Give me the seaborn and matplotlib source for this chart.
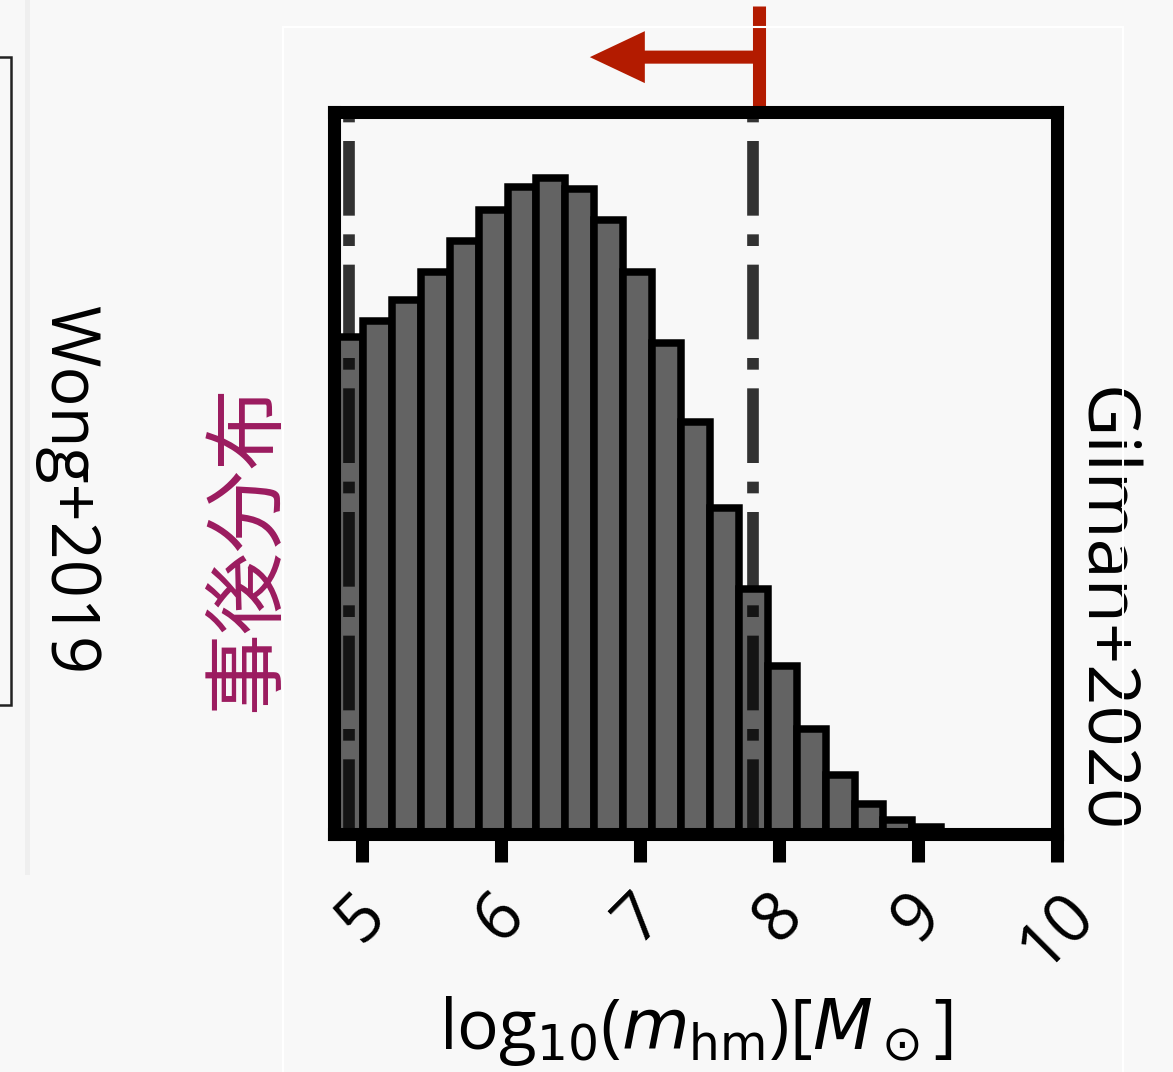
import numpy as np
import pandas as pd
import seaborn as sns
import matplotlib.pyplot as plt
from matplotlib.patches import Rectangle, FancyArrowPatch, ArrowStyle

# posterior of log10(m_hm): 25 bins over [4.8, 10]
bin_centers = [4.904, 5.112, 5.320, 5.528, 5.736, 5.944, 6.152, 6.360, 6.568,
               6.776, 6.984, 7.192, 7.400, 7.608, 7.816, 8.024, 8.232, 8.440,
               8.648, 8.856, 9.064, 9.272, 9.480, 9.688, 9.896]
density = [0.688, 0.711, 0.740, 0.779, 0.822, 0.864, 0.896, 0.909, 0.893,
           0.850, 0.778, 0.680, 0.571, 0.452, 0.339, 0.233, 0.146, 0.082,
           0.042, 0.019, 0.010, 0.0, 0.0, 0.0, 0.0]
bin_range = (4.8, 10.0)
n_bins = 25
xticks = [5, 6, 7, 8, 9, 10]
interval = [4.906, 7.817]      # dash-dot lines
gilman_limit = 7.856           # red upper limit
arrow_tip = 6.64

df = pd.DataFrame({'log_mhm': bin_centers, 'density': density})

sns.set_theme(style='ticks')
plt.rcParams['font.family'] = ['Open Sans', 'Noto Sans CJK JP', 'DejaVu Sans']
plt.rcParams['mathtext.fontset'] = 'dejavusans'
for k in ['text.color', 'axes.labelcolor', 'xtick.color', 'ytick.color']:
    plt.rcParams[k] = 'black'

bg = '#f8f8f8'
red = '#b31b00'
fig = plt.figure(figsize=(11.73, 10.72), dpi=100, facecolor=bg)

# panel decorations (cropped neighbouring panels)
fig.patches.append(Rectangle((25 / 1173, 1 - 875 / 1072), 5 / 1173, 875 / 1072,
                             transform=fig.transFigure, color='#efefef', lw=0))
fig.patches.append(Rectangle((-10 / 1173, 1 - 705 / 1072), 21 / 1173, 648 / 1072,
                             transform=fig.transFigure, fill=False, ec='#222222', lw=1.8))
fig.patches.append(Rectangle((283 / 1173, -0.05), 840 / 1173, 1.05 - 27 / 1072,
                             transform=fig.transFigure, fill=False, ec='white', lw=1.5))

ax = fig.add_axes([334 / 1173, 1 - 834 / 1072, 723 / 1173, 722 / 1072])
ax.set_facecolor(bg)

sns.histplot(data=df, x='log_mhm', weights='density', bins=n_bins, binrange=bin_range,
             color='#636363', edgecolor='black', linewidth=5.4, alpha=1, ax=ax)

for v in interval:
    ax.axvline(v, color='black', alpha=0.8, ls='-.', lw=8.4, zorder=5)

trans = ax.get_xaxis_transform()
ax.plot([gilman_limit, gilman_limit], [1.007, 1.147], color=red, lw=9.4,
        solid_capstyle='butt', transform=trans, clip_on=False)
arrow = FancyArrowPatch(posA=(gilman_limit, 1.076), posB=(arrow_tip, 1.076),
                        transform=trans,
                        arrowstyle=ArrowStyle.Simple(head_length=39.6, head_width=37.4,
                                                     tail_width=9.4),
                        mutation_scale=1, color=red, lw=0, shrinkA=0, shrinkB=0,
                        clip_on=False)
ax.add_patch(arrow)

ax.set_xlim(bin_range)
ax.set_ylim(0, 1)
ax.set_xticks(xticks)
ax.set_xticklabels([str(t) for t in xticks], rotation=45, fontsize=48)
ax.set_yticks([])
ax.set_ylabel('')
ax.tick_params(axis='x', direction='out', length=20, width=9.4, pad=14, color='black')
for s in ax.spines.values():
    s.set_visible(True)
    s.set_linewidth(9.4)
    s.set_color('black')

ax.set_xlabel(r'log$_{10}$($m_{\rm hm}$)[$M_\odot$]', fontsize=50, labelpad=8)

ax.text(-0.119, 0.396, '事後分布', transform=ax.transAxes, rotation=90,
        ha='center', va='center', fontsize=59, color='#9b1b5f',
        family=['Noto Sans CJK JP', 'DejaVu Sans'])
ax.text(1.062, 0.31, 'Gilman+2020', transform=ax.transAxes, rotation=270,
        ha='center', va='center', fontsize=52)
fig.text(68 / 1173, 1 - 490 / 1072, 'Wong+2019', rotation=270,
         ha='center', va='center', fontsize=48)

fig.savefig('out.png', dpi=100, facecolor=bg)
